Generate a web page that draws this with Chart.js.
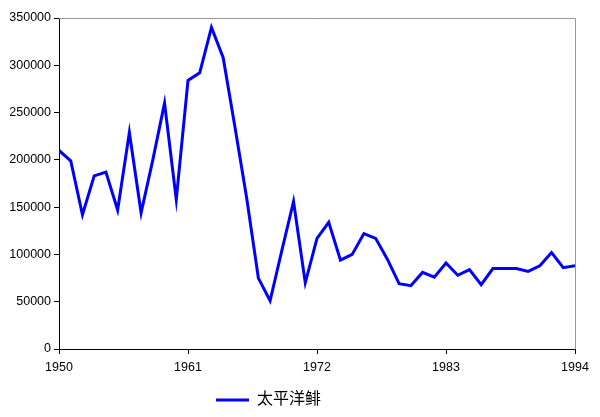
<!DOCTYPE html>
<html>
<head>
<meta charset="utf-8">
<script src="https://cdn.jsdelivr.net/npm/chart.js@4"></script>
<style>
  body { margin: 0; background: #fff; }
</style>
</head>
<body>
<canvas id="myChart" width="600" height="417"></canvas>
<script>
/* global Chart */

// years 1950 - 1994
const years = [];
for (let y = 1950; y <= 1994; y++) years.push(y);

// 太平洋鲱 catch
const catches = [
  210000, 199000, 142000, 183000, 187000, 147000, 229000, 144000, 200000, 260000,
  158000, 284000, 292000, 340000, 308000, 235000, 160000, 75000, 51000, 104000,
  156000, 70000, 117000, 134000, 94000, 100000, 122000, 117000, 95000, 69000,
  67000, 81000, 76000, 91000, 78000, 84000, 68000, 85000, 85000, 85000,
  82000, 88000, 102000, 86000, 88000,
];

const yTicks = [0, 50000, 100000, 150000, 200000, 250000, 300000, 350000];
const xTicks = [1950, 1961, 1972, 1983, 1994];
const seriesName = "太平洋鲱";

// gray top / right frame of the plot area, legend nudged left like the original
const frame = {
  id: "frame",
  afterLayout(chart) {
    chart.legend.left -= 19;
    chart.legend.right -= 19;
    chart.legend.top += 1;
    chart.legend.bottom += 1;
  },
  beforeDatasetsDraw(chart) {
    const a = chart.chartArea;
    const ctx = chart.ctx;
    ctx.save();
    ctx.strokeStyle = "#999999";
    ctx.lineWidth = 1;
    ctx.beginPath();
    ctx.moveTo(a.left, a.top + 0.5);
    ctx.lineTo(a.right + 0.5, a.top + 0.5);
    ctx.lineTo(a.right + 0.5, a.bottom);
    ctx.stroke();
    ctx.restore();
  },
};

const ctx = document.getElementById("myChart").getContext("2d");
const myChart = new Chart(ctx, {
  type: "line",
  data: {
    datasets: [
      {
        label: seriesName,
        data: years.map((y, i) => ({ x: y, y: catches[i] })),
        borderColor: "#0000ff",
        backgroundColor: "#0000ff",
        borderWidth: 3,
        pointRadius: 0,
        tension: 0,
      },
    ],
  },
  options: {
    responsive: false,
    animation: false,
    layout: { padding: { top: 18, right: 25, left: 0, bottom: 0 } },
    plugins: {
      tooltip: { enabled: false },
      legend: {
        position: "bottom",
        labels: {
          usePointStyle: true,
          pointStyle: "line",
          pointStyleWidth: 33,
          boxHeight: 3,
          color: "#000",
          padding: 12,
          font: { family: "'Liberation Sans', 'Noto Sans CJK SC'", size: 16 },
        },
      },
    },
    scales: {
      x: {
        type: "linear",
        min: 1950,
        max: 1994,
        afterBuildTicks(scale) {
          scale.ticks = xTicks.map((v) => ({ value: v }));
        },
        afterFit(scale) {
          scale.height = 30;
        },
        ticks: {
          color: "#000",
          font: { family: "'Liberation Sans'", size: 12.5 },
          maxRotation: 0,
          padding: 6,
          callback: (v) => String(v),
        },
        grid: { drawOnChartArea: false, color: "#000", tickLength: 5 },
        border: { color: "#000", width: 1 },
      },
      y: {
        min: 0,
        max: 350000,
        afterBuildTicks(scale) {
          scale.ticks = yTicks.map((v) => ({ value: v }));
        },
        afterFit(scale) {
          scale.width = 59;
        },
        ticks: {
          color: "#000",
          font: { family: "'Liberation Sans'", size: 12.5 },
          padding: 3,
          callback: (v) => String(v),
        },
        grid: { drawOnChartArea: false, color: "#000", tickLength: 5 },
        border: { color: "#000", width: 1 },
      },
    },
  },
  plugins: [frame],
});
</script>
</body>
</html>
